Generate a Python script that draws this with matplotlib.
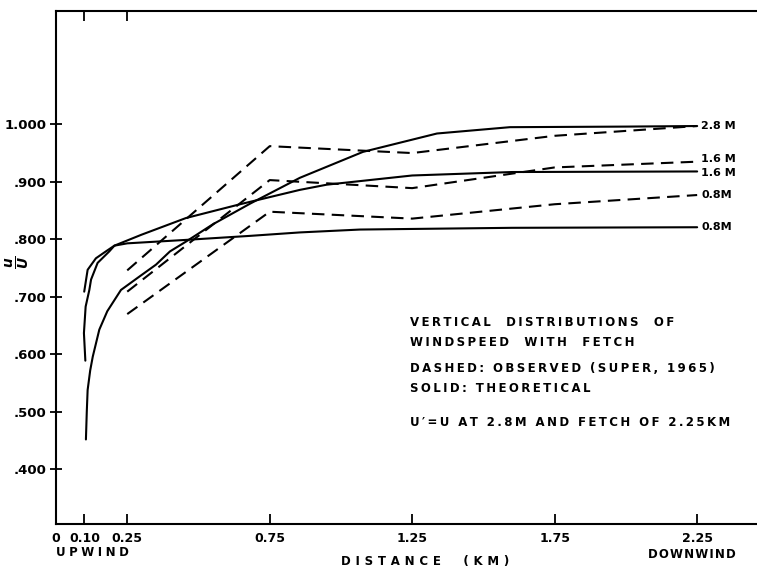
import numpy as np
import matplotlib
matplotlib.use("Agg")
from matplotlib import pyplot as plt

# theoretical (solid) curves
x_th_28 = [0.105, 0.108, 0.111, 0.120, 0.129, 0.152, 0.180, 0.228, 0.292, 0.351,
           0.400, 0.456, 0.550, 0.681, 0.856, 1.077, 1.337, 1.593, 2.000, 2.250]
y_th_28 = [0.452, 0.500, 0.538, 0.572, 0.596, 0.643, 0.675, 0.712, 0.735, 0.756,
           0.779, 0.796, 0.826, 0.862, 0.907, 0.952, 0.984, 0.995, 0.996, 0.997]

x_th_16 = [0.103, 0.098, 0.104, 0.117, 0.123, 0.146, 0.187, 0.205, 0.300, 0.456,
           0.646, 0.856, 0.950, 1.250, 1.600, 2.250]
y_th_16 = [0.589, 0.637, 0.683, 0.712, 0.730, 0.759, 0.779, 0.789, 0.808, 0.837,
           0.861, 0.886, 0.895, 0.911, 0.917, 0.918]

x_th_08 = [0.099, 0.111, 0.140, 0.175, 0.205, 0.250, 0.456, 0.681, 0.856, 1.067,
           1.600, 2.250]
y_th_08 = [0.709, 0.747, 0.767, 0.779, 0.789, 0.793, 0.799, 0.806, 0.812, 0.817,
           0.820, 0.821]

# observed (dashed), Super 1965
x_obs = [0.25, 0.75, 1.25, 1.75, 2.25]
y_obs_28 = [0.746, 0.962, 0.950, 0.980, 0.997]
y_obs_16 = [0.709, 0.903, 0.889, 0.925, 0.935]
y_obs_08 = [0.670, 0.848, 0.836, 0.861, 0.877]

end_labels = ['2.8 M', '1.6 M', '1.6 M', '0.8M', '0.8M']
end_values = [0.997, 0.939, 0.915, 0.877, 0.821]

xticks = [0, 0.10, 0.25, 0.75, 1.25, 1.75, 2.25]
xticklabels = ['0', '0.10', '0.25', '0.75', '1.25', '1.75', '2.25']
yticks = [0.4, 0.5, 0.6, 0.7, 0.8, 0.9, 1.0]
yticklabels = ['.400', '.500', '.600', '.700', '.800', '.900', '1.000']

note = ['VERTICAL  DISTRIBUTIONS  OF', 'WINDSPEED  WITH  FETCH',
        'DASHED: OBSERVED (SUPER, 1965)', 'SOLID: THEORETICAL',
        "U\u2032=U AT 2.8M AND FETCH OF 2.25KM"]


def spaced(s, gap='\u2009'):
    # hand lettering is widely spaced
    return gap.join(s)


plt.rcParams['font.family'] = ['DejaVu Sans']
plt.rcParams['font.weight'] = 'bold'

fig = plt.figure(figsize=(7.57, 5.71), dpi=100)
ax = fig.add_axes([56/757, 1-524/571, 1-56/757, (524-11)/571])

lw = 1.5
dash = (0, (6, 3.5))
for xs, ys in [(x_th_28, y_th_28), (x_th_16, y_th_16), (x_th_08, y_th_08)]:
    ax.plot(xs, ys, '-', color='black', linewidth=lw, solid_capstyle='round')
for ys in [y_obs_28, y_obs_16, y_obs_08]:
    ax.plot(x_obs, ys, color='black', linewidth=lw, linestyle=dash)

for lab, v in zip(end_labels, end_values):
    ax.text(2.265, v, lab, fontsize=8, fontweight='bold', va='center', ha='left')

ax.set_xlim(0, 2.46)
ax.set_ylim(0.305, 1.197)
ax.spines['right'].set_visible(False)
for s in ['left', 'bottom', 'top']:
    ax.spines[s].set_linewidth(1.5)

ax.set_xticks(xticks)
ax.set_xticklabels(xticklabels, fontsize=9, fontweight='bold')
ax.set_yticks(yticks)
ax.set_yticklabels(yticklabels, fontsize=9.5, fontweight='bold')
ax.tick_params(axis='x', direction='in', length=7, width=1.3, pad=6)
ax.tick_params(axis='y', direction='inout', length=8, width=1.3, pad=3)

# short ticks along the top edge
axt = ax.secondary_xaxis('top')
axt.set_xticks([0.10, 0.25])
axt.set_xticklabels([])
axt.tick_params(direction='in', length=7, width=1.3)
axt.spines['top'].set_visible(False)

fig.text(92/757, 1-553/571, spaced('UPWIND', '\u2009\u200a'), fontsize=8.5,
         fontweight='bold', ha='center', va='center')
fig.text(692/757, 1-555/571, spaced('DOWNWIND', '\u200a'), fontsize=8.5,
         fontweight='bold', ha='center', va='center')
fig.text(425/757, 1-562/571, spaced('DISTANCE  (KM)', '\u2009\u2009'), fontsize=8.5,
         fontweight='bold', ha='center', va='center')

fig.text(18/757, 1-262/571, r'$\frac{u}{U}$', rotation=90, fontsize=14,
         ha='center', va='center')

note_y = [323, 342, 369, 388, 423]
for t, py in zip(note, note_y):
    fig.text(410/757, 1-py/571, spaced(t), fontsize=8.5, fontweight='bold',
             ha='left', va='center')

fig.savefig('out.png', dpi=100)
